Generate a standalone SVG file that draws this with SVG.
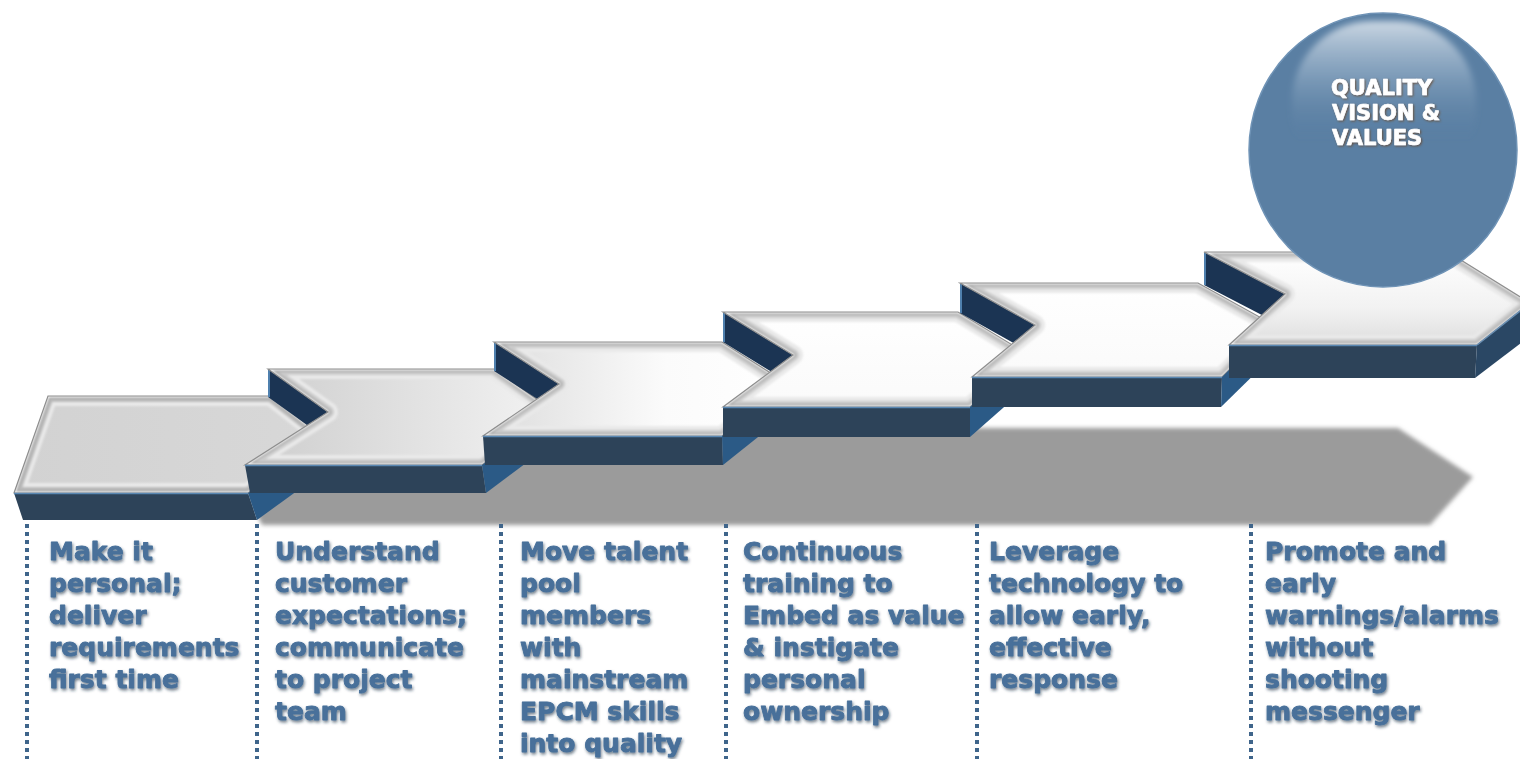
<svg xmlns="http://www.w3.org/2000/svg" xmlns:xlink="http://www.w3.org/1999/xlink" width="1520" height="759" viewBox="0 0 1520 759">
<style>
.front{fill:#2d4359}
.fline{fill:none;stroke:#5a88b3;stroke-width:1.5}
.side{fill:#2b5a86}
.wall{fill:#1b3453}
.wedge{fill:none;stroke:#4f80ae;stroke-width:2}
.outl{fill:none;stroke:#8e8e8e;stroke-width:1.2}
.b1{fill:none;stroke:#e9e9e9;stroke-width:20;stroke-linejoin:round}
.b2{fill:none;stroke:#cbcbcb;stroke-width:12;stroke-linejoin:round}
.b3{fill:none;stroke:#a9a9a9;stroke-width:6;stroke-linejoin:round}
.b4{fill:none;stroke:#f7f7f7;stroke-width:2.5;stroke-linejoin:round}
.lbl{font-family:"DejaVu Sans","Liberation Sans",sans-serif;font-weight:bold;font-size:25px;fill:#48709a;stroke:#48709a;stroke-width:0.9;stroke-linejoin:round}
.ctxt{font-family:"DejaVu Sans","Liberation Sans",sans-serif;font-weight:bold;font-size:21px;fill:#ffffff;stroke:#ffffff;stroke-width:0.7;stroke-linejoin:round}
.dot{fill:none;stroke:#3f658b;stroke-width:4;stroke-dasharray:4 4}
</style>
<defs>
<polygon id="t1" points="48,396 271,396 327,440 248,493 14,493"/>
<polygon id="t2" points="268,369 494,369 555,412 482,465 245,465 328,412"/>
<polygon id="t3" points="494,342 722,342 788,384 722,436 483,436 559,384"/>
<polygon id="t4" points="723,312 958,312 1029,355 970,407 723,407 793,355"/>
<polygon id="t5" points="960,283 1198,283 1274,325 1222,377 972,377 1035,325"/>
<polygon id="t6" points="1204,252 1448,252 1530,303 1477,345 1229,345 1285,294"/>
<clipPath id="c1"><use xlink:href="#t1"/></clipPath>
<clipPath id="c2"><use xlink:href="#t2"/></clipPath>
<clipPath id="c3"><use xlink:href="#t3"/></clipPath>
<clipPath id="c4"><use xlink:href="#t4"/></clipPath>
<clipPath id="c5"><use xlink:href="#t5"/></clipPath>
<clipPath id="c6"><use xlink:href="#t6"/></clipPath>
<linearGradient id="g1" x1="0" y1="0" x2="1" y2="0"><stop offset="0" stop-color="#d2d2d2"/><stop offset="1" stop-color="#d8d8d8"/></linearGradient>
<linearGradient id="g2" x1="0" y1="0" x2="1" y2="0"><stop offset="0" stop-color="#cdcdcd"/><stop offset="1" stop-color="#f3f3f3"/></linearGradient>
<linearGradient id="g3" x1="0" y1="0" x2="1" y2="0"><stop offset="0" stop-color="#dcdcdc"/><stop offset="0.6" stop-color="#fbfbfb"/><stop offset="1" stop-color="#ffffff"/></linearGradient>
<linearGradient id="g4" x1="0" y1="0" x2="0" y2="1"><stop offset="0" stop-color="#ffffff"/><stop offset="1" stop-color="#fafafa"/></linearGradient>
<linearGradient id="g6" x1="0" y1="0" x2="0" y2="1"><stop offset="0" stop-color="#ffffff"/><stop offset="0.6" stop-color="#f2f2f2"/><stop offset="1" stop-color="#dedede"/></linearGradient>
<linearGradient id="hl" x1="0" y1="0" x2="0" y2="1"><stop offset="0" stop-color="#dfe7ef" stop-opacity="0.85"/><stop offset="0.3" stop-color="#a3bad0" stop-opacity="0.55"/><stop offset="0.7" stop-color="#5a7fa3" stop-opacity="0"/></linearGradient>
<filter id="soft" x="-5%" y="-5%" width="110%" height="110%"><feGaussianBlur stdDeviation="1.3"/></filter>
<filter id="hlblur" x="-10%" y="-10%" width="120%" height="120%"><feGaussianBlur stdDeviation="3"/></filter>
<filter id="shblur" x="-5%" y="-20%" width="110%" height="140%"><feGaussianBlur stdDeviation="2"/></filter>
<filter id="ts" x="-10%" y="-20%" width="130%" height="150%">
<feGaussianBlur in="SourceAlpha" stdDeviation="1.5"/>
<feOffset dx="1.2" dy="1.5" result="b"/>
<feFlood flood-color="#1b2f45" flood-opacity="0.6"/>
<feComposite in2="b" operator="in"/>
<feMerge><feMergeNode/><feMergeNode in="SourceGraphic"/></feMerge>
</filter>
<filter id="cts" x="-10%" y="-20%" width="130%" height="150%">
<feGaussianBlur in="SourceAlpha" stdDeviation="1"/>
<feOffset dx="1.2" dy="1.2" result="b"/>
<feFlood flood-color="#6b4524" flood-opacity="0.8"/>
<feComposite in2="b" operator="in"/>
<feMerge><feMergeNode/><feMergeNode in="SourceGraphic"/></feMerge>
</filter>
</defs>
<rect width="1520" height="759" fill="#ffffff"/>

<g id="shadow">
<polygon points="250,428 1398,428 1473,477 1430,525 262,525 250,500" fill="#9b9b9b" filter="url(#shblur)"/>
</g>

<g id="connectors">
<line class="dot" x1="27" y1="524" x2="27" y2="759"/>
<line class="dot" x1="257" y1="524" x2="257" y2="759"/>
<line class="dot" x1="501" y1="524" x2="501" y2="759"/>
<line class="dot" x1="726" y1="524" x2="726" y2="759"/>
<line class="dot" x1="977" y1="524" x2="977" y2="759"/>
<line class="dot" x1="1251" y1="524" x2="1251" y2="759"/>
</g>

<g id="step1">
<use xlink:href="#t1" fill="url(#g1)"/>
<g clip-path="url(#c1)"><g filter="url(#soft)"><use xlink:href="#t1" class="b1"/><use xlink:href="#t1" class="b2" style="stroke:#b9b9b9"/><use xlink:href="#t1" class="b3"/><use xlink:href="#t1" class="b4"/></g></g>
<use xlink:href="#t1" class="outl"/>
<polygon class="front" points="14,493 248,493 257,520 23,520"/>
<line class="fline" x1="14" y1="493.5" x2="248" y2="493.5"/>
<polygon class="side" points="248,493 327,440 330,467 257,520"/>
</g>

<g id="step2">
<polygon class="wall" points="268,369 328,412 328,440 268,397"/>
<line class="wedge" x1="269" y1="370" x2="269" y2="397"/>
<use xlink:href="#t2" fill="url(#g2)"/>
<g clip-path="url(#c2)"><g filter="url(#soft)"><use xlink:href="#t2" class="b1"/><use xlink:href="#t2" class="b2"/><use xlink:href="#t2" class="b3"/><use xlink:href="#t2" class="b4"/></g></g>
<use xlink:href="#t2" class="outl"/>
<polygon class="front" points="245,465 482,465 486,493 250,493"/>
<line class="fline" x1="245" y1="465.5" x2="482" y2="465.5"/>
<polygon class="side" points="482,465 555,412 557,440 486,493"/>
</g>

<g id="step3">
<polygon class="wall" points="494,342 559,384 559,413 494,371"/>
<line class="wedge" x1="495" y1="343" x2="495" y2="371"/>
<use xlink:href="#t3" fill="url(#g3)"/>
<g clip-path="url(#c3)"><g filter="url(#soft)"><use xlink:href="#t3" class="b1"/><use xlink:href="#t3" class="b2"/><use xlink:href="#t3" class="b3"/><use xlink:href="#t3" class="b4"/></g></g>
<use xlink:href="#t3" class="outl"/>
<polygon class="front" points="483,436 722,436 723,465 485,465"/>
<line class="fline" x1="483" y1="436.5" x2="722" y2="436.5"/>
<polygon class="side" points="722,436 788,384 788,413 723,465"/>
</g>

<g id="step4">
<polygon class="wall" points="723,312 793,355 793,385 723,342"/>
<line class="wedge" x1="724" y1="313" x2="724" y2="342"/>
<use xlink:href="#t4" fill="url(#g4)"/>
<g clip-path="url(#c4)"><g filter="url(#soft)"><use xlink:href="#t4" class="b1"/><use xlink:href="#t4" class="b2"/><use xlink:href="#t4" class="b3"/><use xlink:href="#t4" class="b4"/></g></g>
<use xlink:href="#t4" class="outl"/>
<polygon class="front" points="723,407 970,407 970,437 723,437"/>
<line class="fline" x1="723" y1="407.5" x2="970" y2="407.5"/>
<polygon class="side" points="970,407 1029,355 1029,385 970,437"/>
</g>

<g id="step5">
<polygon class="wall" points="960,283 1035,325 1035,355 960,313"/>
<line class="wedge" x1="961" y1="284" x2="961" y2="313"/>
<use xlink:href="#t5" fill="url(#g4)"/>
<g clip-path="url(#c5)"><g filter="url(#soft)"><use xlink:href="#t5" class="b1"/><use xlink:href="#t5" class="b2"/><use xlink:href="#t5" class="b3"/><use xlink:href="#t5" class="b4"/></g></g>
<use xlink:href="#t5" class="outl"/>
<polygon class="front" points="972,377 1222,377 1221,407 972,407"/>
<line class="fline" x1="972" y1="377.5" x2="1222" y2="377.5"/>
<polygon class="side" points="1222,377 1274,325 1274,355 1221,407"/>
</g>

<g id="step6">
<polygon class="wall" points="1204,252 1285,294 1285,327 1204,285"/>
<line class="wedge" x1="1205" y1="253" x2="1205" y2="285"/>
<use xlink:href="#t6" fill="url(#g6)"/>
<g clip-path="url(#c6)"><g filter="url(#soft)"><use xlink:href="#t6" class="b1"/><use xlink:href="#t6" class="b2"/><use xlink:href="#t6" class="b3"/><use xlink:href="#t6" class="b4"/></g></g>
<use xlink:href="#t6" class="outl"/>
<polygon class="front" points="1229,345 1477,345 1475,378 1229,378"/>
<line class="fline" x1="1229" y1="345.5" x2="1477" y2="345.5"/>
<polygon points="1477,345 1530,303 1530,336 1475,378" fill="#2a4764"/>
<line x1="1477" y1="345" x2="1530" y2="303" stroke="#6a8fb3" stroke-width="1.5"/>
</g>

<g id="quality-vision">
<ellipse cx="1383" cy="150" rx="134" ry="137" fill="#5a7fa3" stroke="#6f93b6" stroke-width="1.5"/>
<rect x="1292" y="21" width="184" height="170" rx="80" ry="80" fill="url(#hl)" filter="url(#hlblur)"/>
<text class="ctxt" filter="url(#cts)"><tspan x="1331" y="95">QUALITY</tspan><tspan x="1332" y="120">VISION &amp;</tspan><tspan x="1332" y="145">VALUES</tspan></text>
</g>

<g id="label1">
<text class="lbl" filter="url(#ts)"><tspan x="49" y="560">Make it</tspan><tspan x="49" y="592">personal;</tspan><tspan x="49" y="624">deliver</tspan><tspan x="49" y="656">requirements</tspan><tspan x="49" y="688">first time</tspan></text>
</g>
<g id="label2">
<text class="lbl" filter="url(#ts)"><tspan x="275" y="560">Understand</tspan><tspan x="275" y="592">customer</tspan><tspan x="275" y="624">expectations;</tspan><tspan x="275" y="656">communicate</tspan><tspan x="275" y="688">to project</tspan><tspan x="275" y="720">team</tspan></text>
</g>
<g id="label3">
<text class="lbl" filter="url(#ts)"><tspan x="520" y="560">Move talent</tspan><tspan x="520" y="592">pool</tspan><tspan x="520" y="624">members</tspan><tspan x="520" y="656">with</tspan><tspan x="520" y="688">mainstream</tspan><tspan x="520" y="720">EPCM skills</tspan><tspan x="520" y="752">into quality</tspan></text>
</g>
<g id="label4">
<text class="lbl" filter="url(#ts)"><tspan x="743" y="560">Continuous</tspan><tspan x="743" y="592">training to</tspan><tspan x="743" y="624">Embed as value</tspan><tspan x="743" y="656">&amp; instigate</tspan><tspan x="743" y="688">personal</tspan><tspan x="743" y="720">ownership</tspan></text>
</g>
<g id="label5">
<text class="lbl" filter="url(#ts)"><tspan x="989" y="560">Leverage</tspan><tspan x="989" y="592">technology to</tspan><tspan x="989" y="624">allow early,</tspan><tspan x="989" y="656">effective</tspan><tspan x="989" y="688">response</tspan></text>
</g>
<g id="label6">
<text class="lbl" filter="url(#ts)"><tspan x="1265" y="560">Promote and</tspan><tspan x="1265" y="592">early</tspan><tspan x="1265" y="624">warnings/alarms</tspan><tspan x="1265" y="656">without</tspan><tspan x="1265" y="688">shooting</tspan><tspan x="1265" y="720">messenger</tspan></text>
</g>
</svg>
